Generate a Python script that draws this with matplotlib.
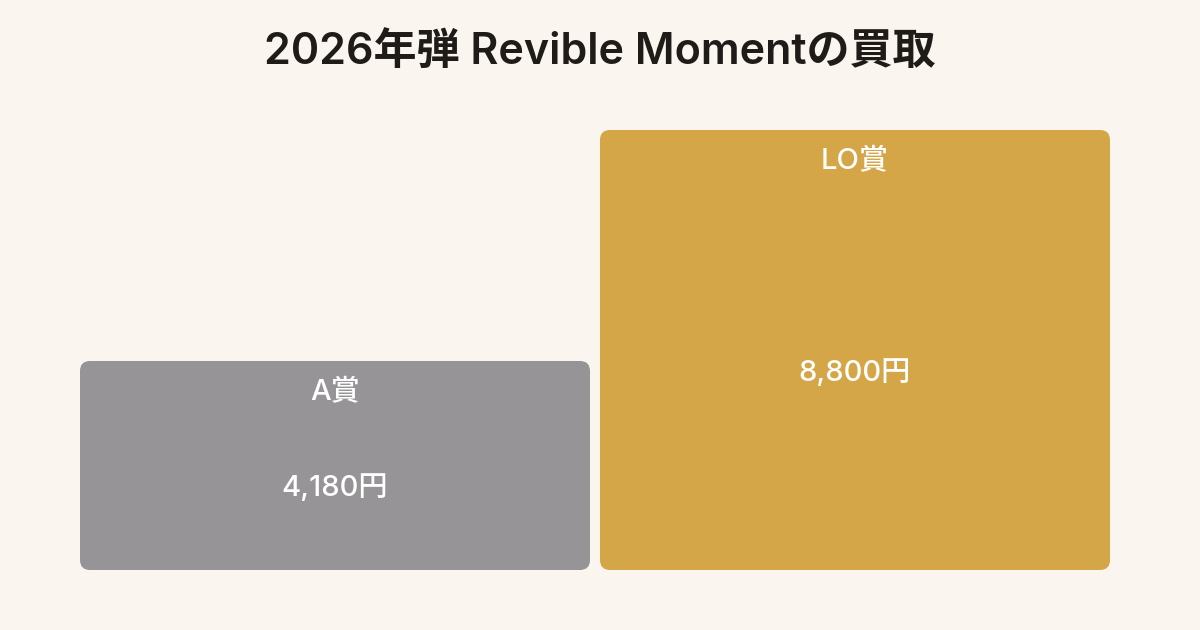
"""Revible Moment buyback price chart."""

import matplotlib
matplotlib.use('Agg')
import matplotlib.pyplot as plt
from matplotlib.patches import FancyBboxPatch

FONTS = ['Inter', 'Noto Sans CJK JP', 'DejaVu Sans']
plt.rcParams['font.family'] = FONTS

# Data
prizes = ['A賞', 'LO賞']
prices = [4180, 8800]
price_labels = ['4,180円', '8,800円']
colors = ['#969497', '#D5A647']

BG = '#FAF6EF'
W, H, DPI = 1200, 630, 100

fig = plt.figure(figsize=(W / DPI, H / DPI), dpi=DPI, facecolor=BG)

# axes placed in pixel space: bars from x=80..1110, y=130..570
step_px = 520
bar_w = 510 / step_px
x0 = -bar_w / 2
x1 = len(prizes) - 1 + bar_w / 2
ax_left, ax_right = 80, 1110
ax_bottom, ax_top = 570, 130
ax = fig.add_axes([ax_left / W, (H - ax_bottom) / H,
                   (ax_right - ax_left) / W, (ax_bottom - ax_top) / H])
ax.set_xlim(x0, x1)
ax.set_ylim(0, max(prices))
ax.set_facecolor(BG)
ax.axis('off')

bars = ax.bar(range(len(prizes)), prices, width=bar_w, color=colors)

# turn the plain bars into rounded boxes (10 px corner radius)
px_per_x = (ax_right - ax_left) / (x1 - x0)
px_per_y = (ax_bottom - ax_top) / max(prices)
radius_px = 10
for bar in bars:
    bx, by = bar.get_x(), bar.get_y()
    bw, bh = bar.get_width(), bar.get_height()
    bar.set_visible(False)
    ax.add_patch(FancyBboxPatch(
        (bx, by), bw, bh,
        boxstyle=f'round,pad=0,rounding_size={radius_px / px_per_x}',
        mutation_aspect=px_per_x / px_per_y,
        facecolor=bar.get_facecolor(), edgecolor='none'))

for i, (name, val, lab) in enumerate(zip(prizes, prices, price_labels)):
    ax.annotate(name, (i, val), xytext=(0, -32), textcoords='offset pixels',
                ha='center', va='center', color='white', fontsize=21,
                fontweight='medium', family=FONTS)
    ax.annotate(lab, (i, val / 2), xytext=(0, -23), textcoords='offset pixels',
                ha='center', va='center', color='white', fontsize=21,
                fontweight='medium', family=FONTS)

fig.text(0.5, 1 - 52 / H, '2026年弾 Revible Momentの買取',
         ha='center', va='center', fontsize=31, fontweight='semibold',
         color='#1E1B18')

fig.savefig('out.png', dpi=DPI, facecolor=BG)
